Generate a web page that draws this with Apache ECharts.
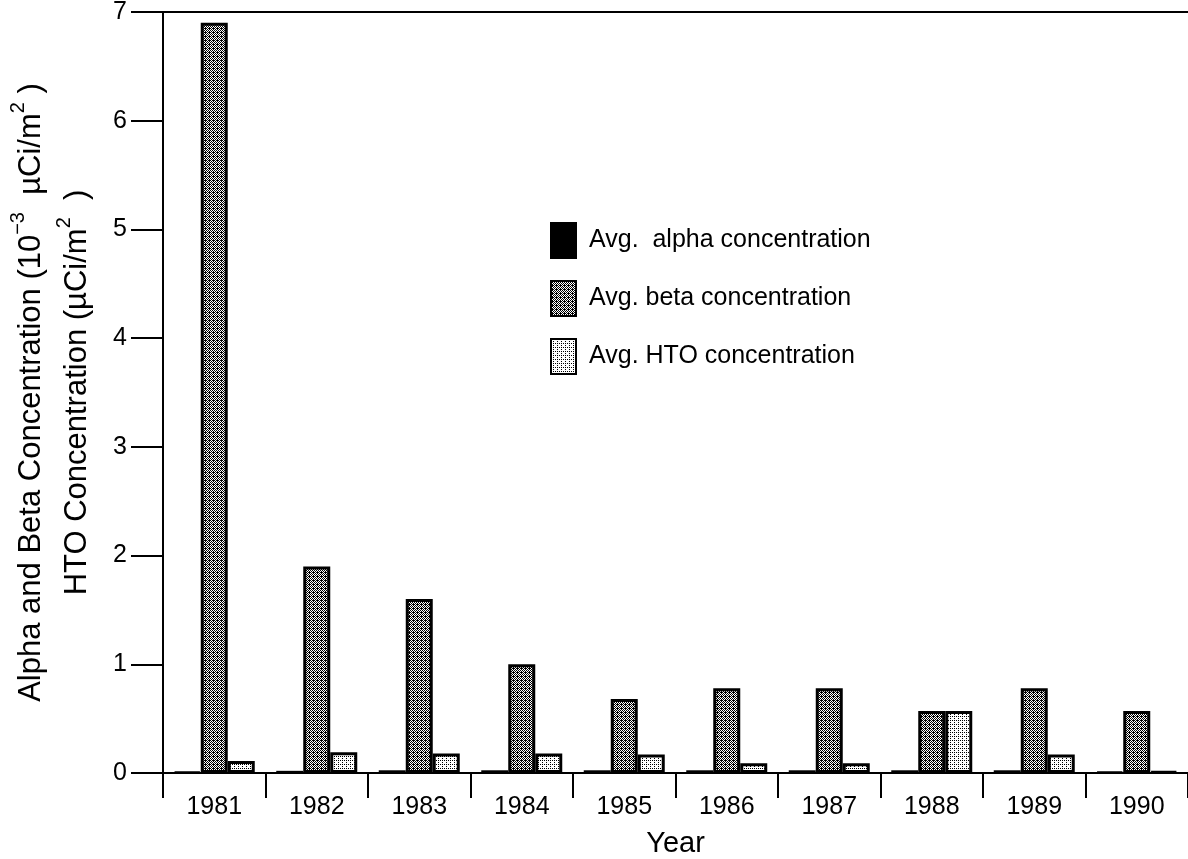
<!DOCTYPE html>
<html>
<head>
<meta charset="utf-8">
<script src="https://cdn.jsdelivr.net/npm/echarts@6/dist/echarts.min.js"></script>
<style>
  html, body { margin: 0; padding: 0; background: #fff; }
  #chart { width: 1188px; height: 859px; }
</style>
</head>
<body>
<div id="chart"></div>
<script>
// values
const years = ['1981', '1982', '1983', '1984', '1985', '1986', '1987', '1988', '1989', '1990']
const alphaConc = [0.015, 0.02, 0.025, 0.025, 0.025, 0.025, 0.025, 0.025, 0.025, 0.015]
const betaConc = [6.9, 1.9, 1.6, 1.0, 0.68, 0.78, 0.78, 0.57, 0.78, 0.57]
const htoConc = [0.11, 0.19, 0.18, 0.18, 0.17, 0.09, 0.09, 0.57, 0.17, 0.015]
const yTicks = [0, 1, 2, 3, 4, 5, 6, 7]

const FONT = '"Liberation Sans", Arial, Helvetica, sans-serif'

// little dotted fills like the old screen tones
function dotPattern (pixels) {
  const c = document.createElement('canvas')
  c.width = 4
  c.height = 4
  const ctx = c.getContext('2d')
  ctx.fillStyle = '#fff'
  ctx.fillRect(0, 0, 4, 4)
  ctx.fillStyle = '#000'
  pixels.forEach(p => ctx.fillRect(p[0], p[1], 1, 1))
  return { image: c, repeat: 'repeat' }
}

const betaFill = dotPattern([[0, 0], [2, 0], [1, 1], [3, 1], [0, 2], [2, 2], [1, 3], [3, 3], [1, 0]])
const htoFill = dotPattern([[0, 0], [2, 2], [2, 0]])

const chart = echarts.init(document.getElementById('chart'))

const barBase = {
  type: 'bar',
  barWidth: 27,
  barGap: '0%',
  animation: false
}

const option = {
  animation: false,
  backgroundColor: '#fff',
  textStyle: { fontFamily: FONT, color: '#000' },
  grid: { left: 163, right: 0, top: 12, bottom: 86, containLabel: false, outerBoundsMode: 'none' },
  legend: {
    orient: 'vertical',
    left: 550,
    top: 222,
    padding: 0,
    icon: 'rect',
    itemWidth: 25,
    itemHeight: 35,
    itemGap: 21,
    textStyle: { fontSize: 25, fontFamily: FONT, color: '#000', padding: [0, 0, 0, 8] },
    data: ['Avg.  alpha concentration', 'Avg. beta concentration', 'Avg. HTO concentration']
  },
  xAxis: [
    {
      type: 'category',
      data: years,
      name: 'Year',
      nameLocation: 'middle',
      nameGap: 56,
      nameTextStyle: { fontSize: 29, fontFamily: FONT, color: '#000' },
      axisLine: { lineStyle: { color: '#000', width: 2 } },
      axisTick: { show: true, length: 25, interval: 0, lineStyle: { color: '#000', width: 2 } },
      axisLabel: { fontSize: 25, margin: 22, color: '#000', fontFamily: FONT, interval: 0 }
    },
    {
      type: 'category',
      data: years,
      position: 'top',
      axisLine: { lineStyle: { color: '#000', width: 2 } },
      axisTick: { show: false },
      axisLabel: { show: false }
    }
  ],
  yAxis: {
    type: 'value',
    min: yTicks[0],
    max: yTicks[yTicks.length - 1],
    interval: 1,
    name: '{t|Alpha and Beta Concentration (10}{s|−3}{t|  µCi/m}{s|2}{t| )}\n{t|HTO Concentration (µCi/m}{s|2}{t|  )}',
    nameLocation: 'middle',
    nameGap: 63,
    nameRotate: 90,
    nameTextStyle: {
      fontFamily: FONT,
      color: '#000',
      lineHeight: 46,
      rich: {
        t: { fontSize: 31, fontFamily: FONT, color: '#000', lineHeight: 46 },
        s: { fontSize: 20, fontFamily: FONT, color: '#000', verticalAlign: 'top', lineHeight: 34 }
      }
    },
    axisLine: { show: true, lineStyle: { color: '#000', width: 2 } },
    axisTick: { show: true, length: 32, lineStyle: { color: '#000', width: 2 } },
    axisLabel: { fontSize: 25, margin: 36, color: '#000', fontFamily: FONT },
    splitLine: { show: false }
  },
  series: [
    Object.assign({}, barBase, {
      name: 'Avg.  alpha concentration',
      data: alphaConc,
      itemStyle: { color: '#000', borderColor: '#000', borderWidth: 2 }
    }),
    Object.assign({}, barBase, {
      name: 'Avg. beta concentration',
      data: betaConc,
      itemStyle: { color: betaFill, borderColor: '#000', borderWidth: 3 }
    }),
    Object.assign({}, barBase, {
      name: 'Avg. HTO concentration',
      data: htoConc,
      itemStyle: { color: htoFill, borderColor: '#000', borderWidth: 3 }
    })
  ]
}

chart.setOption(option)
</script>
</body>
</html>
